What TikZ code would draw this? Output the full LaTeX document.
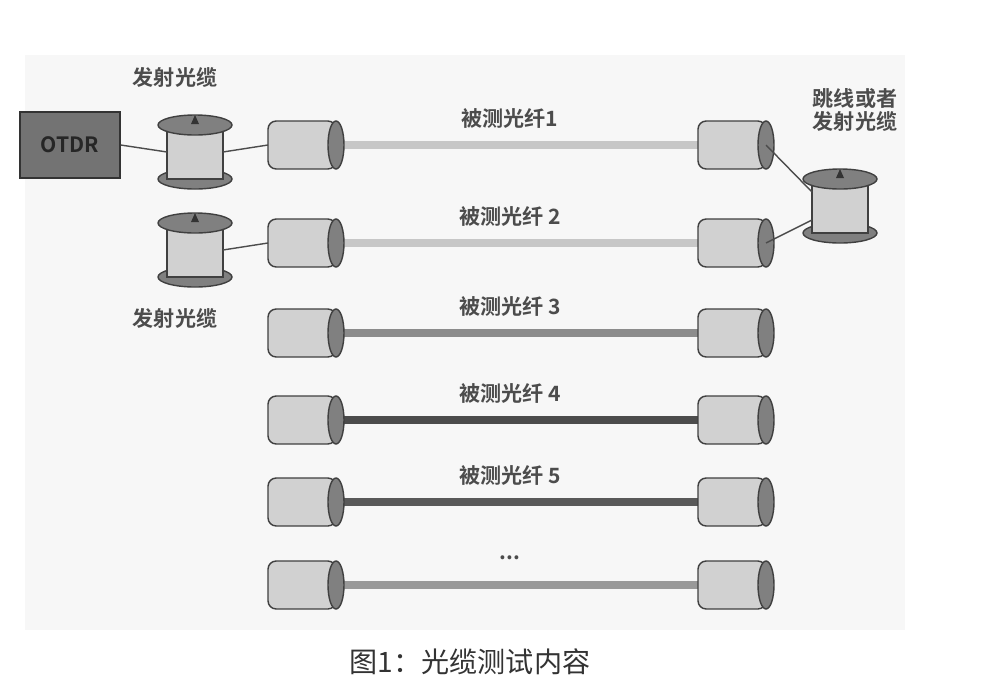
\documentclass[tikz,border=0pt]{standalone}
\usepackage{fontspec}
\setmainfont{Noto Sans CJK SC}[BoldFont={Noto Sans CJK SC Bold}]
\tikzset{
  flange/.style={draw=black!75,fill=black!50,line width=1.2pt},
  drum/.style={draw=black!75,fill=black!18,line width=1.2pt},
  plug/.style={draw=black!75,fill=black!18,line width=1.2pt,rounded corners=7},
  plugend/.style={draw=black!75,fill=black!50,line width=1.2pt},
  lbl/.style={font=\fontsize{18}{19}\selectfont\bfseries,text=black!70},
  wire/.style={black!70,line width=1.2pt}
}
% spool: #1 name, (#2,#3) centre
\newcommand\fibspool[3]{
  \draw[flange] (#2,#3+27) ellipse (37 and 10);
  \draw[drum] (#2-28,#3-27) rectangle (#2+28,#3+27);
  \draw[flange] (#2,#3-27) ellipse (37 and 10);
  \fill[black!80] (#2-4,#3-28) -- (#2+4,#3-28) -- (#2,#3-37) -- cycle;
  \coordinate (#1-w) at (#2-28,#3);
  \coordinate (#1-e) at (#2+28,#3);
}
% connector: #1 name, #2 left x, #3 centre y
\newcommand\fibplug[3]{
  \draw[plug] (#2,#3-24) rectangle (#2+68,#3+24);
  \draw[plugend] (#2+68,#3) ellipse (8 and 24);
  \coordinate (#1-w) at (#2,#3);
  \coordinate (#1-e) at (#2+68,#3);
}
\begin{document}
\begin{tikzpicture}[x=0.03cm,y=-0.03cm]
\useasboundingbox (0,0) rectangle (1000,693);
\fill[black!3] (25,55) rectangle (905,630);
% fibres
\foreach \r/\y/\c/\t in {1/145/black!22/{被测光纤1},2/243/black!22/{被测光纤 2},3/333/black!45/{被测光纤 3},4/420/black!70/{被测光纤 4},5/502/black!65/{被测光纤 5},6/585/black!40/{...}}{
  \draw[line width=6pt,\c] (338,\y) -- (700,\y);
  \fibplug{a\r}{268}{\y}
  \fibplug{b\r}{698}{\y}
  \node[lbl] (t\r) at (510,\y-27) {\t};
}
% OTDR and launch spools
\node[draw=black!80,fill=black!55,line width=1.2pt,minimum width=100*0.03cm,minimum height=66*0.03cm,font=\fontsize{18}{19}\selectfont\bfseries,text=black!85] (otdr) at (70,145) {OTDR};
\fibspool{s1}{195}{152}
\fibspool{s2}{195}{250}
\fibspool{s3}{840}{206}
\draw[wire] (otdr.east) -- (s1-w);
\draw[wire] (s1-e) -- (a1-w);
\draw[wire] (s2-e) -- (a2-w);
\draw[wire] (b1-e) -- (812,192);
\draw[wire] (b2-e) -- (812,220);
\node[lbl] (l1) at (175,77) {发射光缆};
\node[lbl] (l2) at (175,318) {发射光缆};
\node[lbl,align=center] (l3) at (855,110) {跳线或者\\发射光缆};
\node[font=\fontsize{24}{26}\selectfont,text=black!80] (cap) at (470,662) {图1：光缆测试内容};
\end{tikzpicture}
\end{document}
